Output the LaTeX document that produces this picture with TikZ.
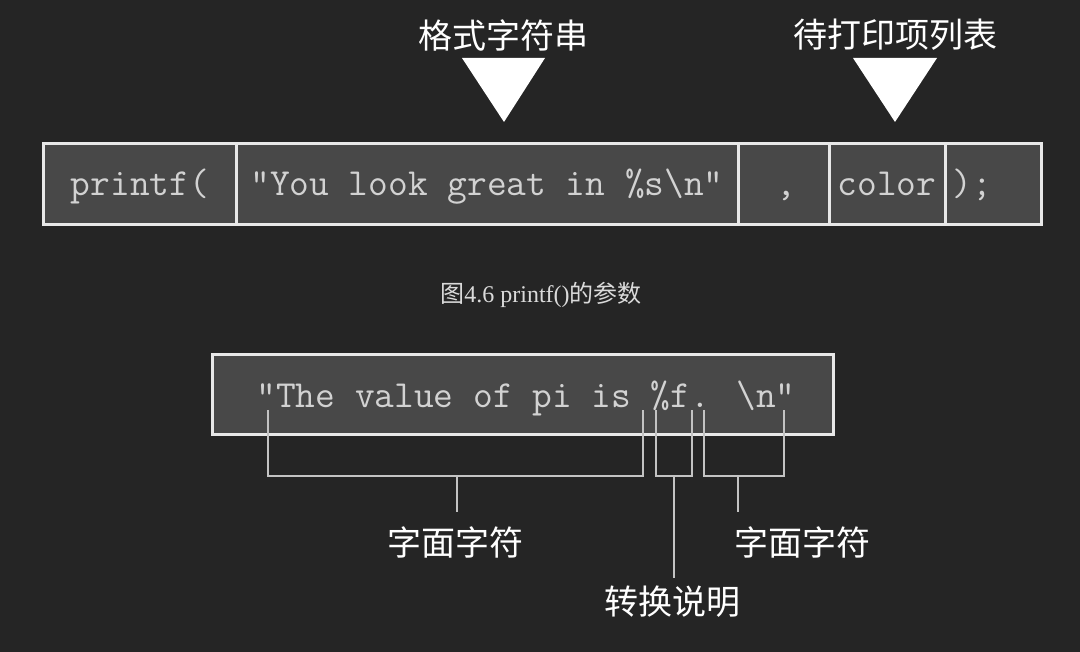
\documentclass[tikz,border=0pt]{standalone}
\usepackage{fontspec}
\setmainfont{Liberation Serif}
\newfontfamily\cjk{Noto Sans CJK SC}
\definecolor{bgc}{RGB}{37,37,37}
\definecolor{cellc}{RGB}{72,72,72}
\definecolor{borderc}{RGB}{232,232,232}
\definecolor{codec}{RGB}{210,210,210}
\definecolor{linec}{RGB}{195,195,195}
\definecolor{capc}{RGB}{218,218,218}
\tikzset{
  cell/.style={draw=borderc, fill=cellc, line width=3pt, inner sep=0pt, anchor=north west, minimum height=81pt},
  code/.style={font=\ttfamily\fontsize{38.3}{40}\selectfont, text=codec, anchor=base, inner sep=0pt},
  label/.style={font=\cjk\fontsize{34}{38}\selectfont, text=white, inner sep=0pt},
  bracket/.style={draw=linec, line width=2pt},
  tri/.style={fill=white}
}
\begin{document}
\begin{tikzpicture}[x=1pt,y=-1pt]
\fill[bgc] (0,0) rectangle (1080,652);
\useasboundingbox (0,0) rectangle (1080,652);

% top labels and triangles
\node[label] (fmt) at (503,35) {格式字符串};
\node[label] (lst) at (895,35) {待打印项列表};
\fill[tri] (462,58) -- (545,58) -- (504,122) -- cycle;
\fill[tri] (853,58) -- (937,58) -- (895,122) -- cycle;

% top row of cells
\node[cell, minimum width=193pt] (c1) at (42,142) {};
\node[cell, minimum width=502pt] (c2) at (235,142) {};
\node[cell, minimum width=91pt] (c3) at (737,142) {};
\node[cell, minimum width=116pt] (c4) at (828,142) {};
\node[cell, minimum width=96pt] (c5) at (944,142) {};
\node[code] (t1) at (140,196) {printf(};
\node[code] (t2) at (487,196) {"You look great in \%s\textbackslash n"};
\node[code] (t3) at (786,196) {,};
\node[code] (t4) at (887,196) {color};
\node[code] (t5) at (972,196) {);};

% caption
\node[font=\fontsize{24}{28}\selectfont, text=capc, inner sep=0pt] (cap) at (541,295)
  {{\cjk 图}4.6 printf(){\cjk 的参数}};

% second box
\node[cell, minimum width=621pt, minimum height=80pt] (b) at (211,353) {};
\node[code] (bt) at (526,408) {"The value of pi is \%f. \textbackslash n"};

% brackets
\coordinate (a1) at (268,410); \coordinate (a2) at (643,410);
\coordinate (m1) at (457,476); \coordinate (e1) at (457,512);
\coordinate (p1) at (656,410); \coordinate (p2) at (692,410);
\coordinate (m2) at (674,476); \coordinate (e2) at (674,578);
\coordinate (q1) at (704,410); \coordinate (q2) at (784,410);
\coordinate (m3) at (738,476); \coordinate (e3) at (738,512);

\draw[bracket] (a1) -- (268,476) -- (643,476) -- (a2);
\draw[bracket] (m1) -- (e1);
\draw[bracket] (p1) -- (656,476) -- (692,476) -- (p2);
\draw[bracket] (m2) -- (e2);
\draw[bracket] (q1) -- (704,476) -- (784,476) -- (q2);
\draw[bracket] (m3) -- (e3);

\node[label] (l1) at (455,542) {字面字符};
\node[label] (l2) at (672,602) {转换说明};
\node[label] (l3) at (802,542) {字面字符};
\end{tikzpicture}
\end{document}
